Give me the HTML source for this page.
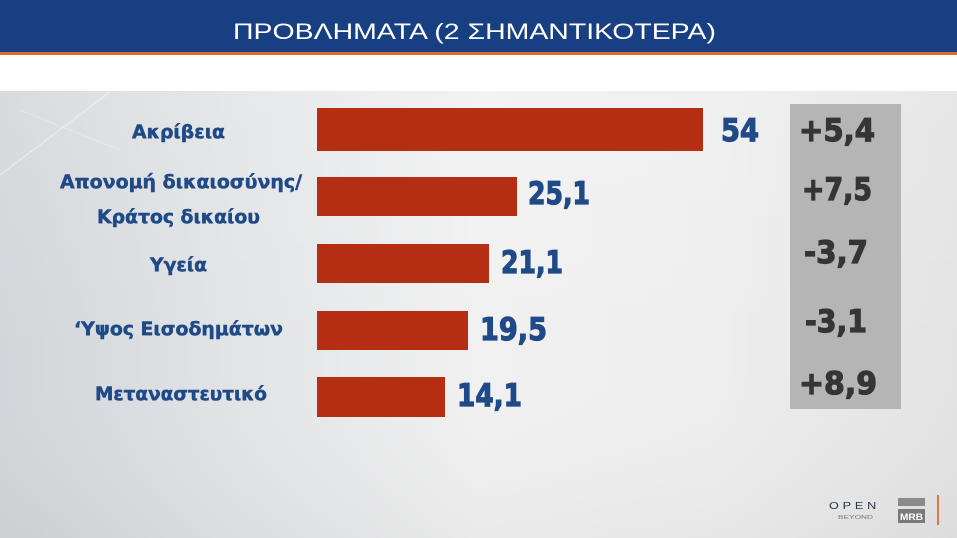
<!DOCTYPE html>
<html><head><meta charset="utf-8">
<style>
html,body{margin:0;padding:0;width:957px;height:538px;overflow:hidden;background:#fff}
svg{display:block}
</style></head>
<body>
<svg width="957" height="538" viewBox="0 0 957 538" xmlns="http://www.w3.org/2000/svg">
<defs>
<linearGradient id="bg" x1="0" y1="0" x2="1" y2="0">
<stop offset="0" stop-color="#d2d5d9"/>
<stop offset="0.25" stop-color="#e2e4e6"/>
<stop offset="0.5" stop-color="#f1f1f1"/>
<stop offset="0.75" stop-color="#eeeeee"/>
<stop offset="1" stop-color="#e3e3e3"/>
</linearGradient>
<linearGradient id="vg" x1="0" y1="0" x2="0" y2="1">
<stop offset="0" stop-color="#ffffff" stop-opacity="0.15"/>
<stop offset="0.6" stop-color="#ffffff" stop-opacity="0"/>
<stop offset="1" stop-color="#000000" stop-opacity="0.03"/>
</linearGradient>
</defs>
<rect x="0" y="0" width="957" height="538" fill="#ffffff"/>
<!-- chart background -->
<rect x="0" y="91" width="957" height="447" fill="url(#bg)"/>
<rect x="0" y="91" width="957" height="447" fill="url(#vg)"/>
<line x1="0" y1="175" x2="110" y2="92" stroke="#ffffff" stroke-opacity="0.35" stroke-width="1.5"/>
<line x1="20" y1="110" x2="120" y2="150" stroke="#ffffff" stroke-opacity="0.3" stroke-width="1"/>
<!-- header -->
<rect x="0" y="0" width="957" height="52" fill="#173f82"/>
<rect x="0" y="52" width="957" height="3" fill="#dd6a2e"/>
<text x="233" y="39" font-family="Liberation Sans, sans-serif" font-size="22.5" fill="#ffffff" textLength="483" lengthAdjust="spacingAndGlyphs">ΠΡΟΒΛΗΜΑΤΑ (2 ΣΗΜΑΝΤΙΚΟΤΕΡΑ)</text>

<!-- bars -->
<g fill="#b52e14">
<rect x="317" y="108" width="386" height="43"/>
<rect x="317" y="177" width="200" height="39"/>
<rect x="317" y="244" width="172" height="39"/>
<rect x="317" y="311" width="151" height="39"/>
<rect x="317" y="377" width="128" height="40"/>
</g>

<!-- category labels -->
<g font-family="DejaVu Sans, sans-serif" font-weight="bold" font-size="19" fill="#1f4a87" stroke="#1f4a87" stroke-width="0.5">
<text x="132" y="138" textLength="93" lengthAdjust="spacingAndGlyphs">Ακρίβεια</text>
<text x="60" y="188" textLength="242" lengthAdjust="spacingAndGlyphs">Απονομή δικαιοσύνης/</text>
<text x="97" y="223" textLength="163" lengthAdjust="spacingAndGlyphs">Κράτος δικαίου</text>
<text x="150" y="271" textLength="57" lengthAdjust="spacingAndGlyphs">Υγεία</text>
<text x="74" y="335" textLength="209" lengthAdjust="spacingAndGlyphs">‘Υψος Εισοδημάτων</text>
<text x="95" y="400" textLength="172" lengthAdjust="spacingAndGlyphs">Μεταναστευτικό</text>
</g>

<!-- value labels -->
<g font-family="DejaVu Sans, sans-serif" font-weight="bold" font-size="31" fill="#1f4a87" stroke="#1f4a87" stroke-width="1.2">
<text x="721" y="141" textLength="38" lengthAdjust="spacingAndGlyphs">54</text>
<text x="528" y="204" textLength="62" lengthAdjust="spacingAndGlyphs">25,1</text>
<text x="501" y="273" textLength="62" lengthAdjust="spacingAndGlyphs">21,1</text>
<text x="480" y="340" textLength="67" lengthAdjust="spacingAndGlyphs">19,5</text>
<text x="457" y="406" textLength="65" lengthAdjust="spacingAndGlyphs">14,1</text>
</g>

<!-- change box -->
<rect x="790" y="104" width="111" height="305" fill="#b5b5b5"/>
<g font-family="DejaVu Sans, sans-serif" font-weight="bold" font-size="31" fill="#353535" stroke="#353535" stroke-width="1.2">
<text x="799" y="141" textLength="76" lengthAdjust="spacingAndGlyphs">+5,4</text>
<text x="802" y="200" textLength="70" lengthAdjust="spacingAndGlyphs">+7,5</text>
<text x="804" y="263" textLength="64" lengthAdjust="spacingAndGlyphs">-3,7</text>
<text x="805" y="332" textLength="62" lengthAdjust="spacingAndGlyphs">-3,1</text>
<text x="799" y="394" textLength="78" lengthAdjust="spacingAndGlyphs">+8,9</text>
</g>

<!-- logos -->
<text x="829" y="509" font-family="Liberation Sans, sans-serif" font-size="10" fill="#2a3550" textLength="51" lengthAdjust="spacingAndGlyphs" letter-spacing="3">OPEN</text>
<text x="838" y="519" font-family="Liberation Sans, sans-serif" font-size="5" fill="#777" textLength="35" lengthAdjust="spacingAndGlyphs">BEYOND</text>
<rect x="898" y="498" width="27" height="8" fill="#8a8a8a"/>
<rect x="898" y="509" width="27" height="14" fill="#7a7a7a"/>
<text x="900" y="520" font-family="Liberation Sans, sans-serif" font-weight="bold" font-size="9" fill="#ffffff" textLength="23" lengthAdjust="spacingAndGlyphs">MRB</text>
<rect x="937" y="495" width="2" height="30" fill="#e07a3a"/>
</svg>
</body></html>
